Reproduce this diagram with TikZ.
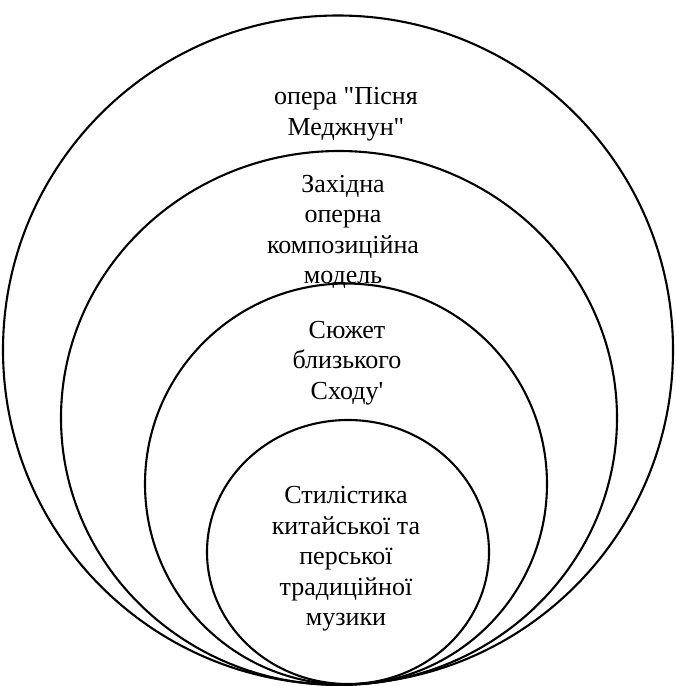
\documentclass[tikz,border=0pt]{standalone}
\usepackage{fontspec}
\setmainfont{Liberation Serif}
\usepackage{tikz}
\usetikzlibrary{shapes.geometric}

\begin{document}
\begin{tikzpicture}[x=1pt,y=-1pt,
		ring/.style={ellipse, draw, line width=2.1pt, inner sep=0pt},
		label/.style={align=center, inner sep=0pt, font=\fontsize{26}{30.5}\selectfont}]
	\useasboundingbox (0,0) rectangle (676,686);
	% nested rings, all resting on the bottom
	\node[ring, minimum width=670pt, minimum height=669pt] (opera) at (338,350) {};
	\node[ring, minimum width=556pt, minimum height=534pt] (model) at (339,418) {};
	\node[ring, minimum width=402pt, minimum height=401pt] (plot) at (346,484) {};
	\node[ring, minimum width=282pt, minimum height=264pt] (style) at (348,552) {};
	% texts
	\node[label] (operatext) at (346,114) {опера \textquotedbl Пісня\\Меджнун\textquotedbl};
	\node[label] (modeltext) at (343,232) {Західна\\оперна\\композиційна\\модель};
	\node[label] (plottext) at (347,363) {Сюжет\\близького\\Сходу\textquotesingle};
	\node[label] (styletext) at (346,559) {Стилістика\\китайської та\\перської\\традиційної\\музики};
\end{tikzpicture}
\end{document}
